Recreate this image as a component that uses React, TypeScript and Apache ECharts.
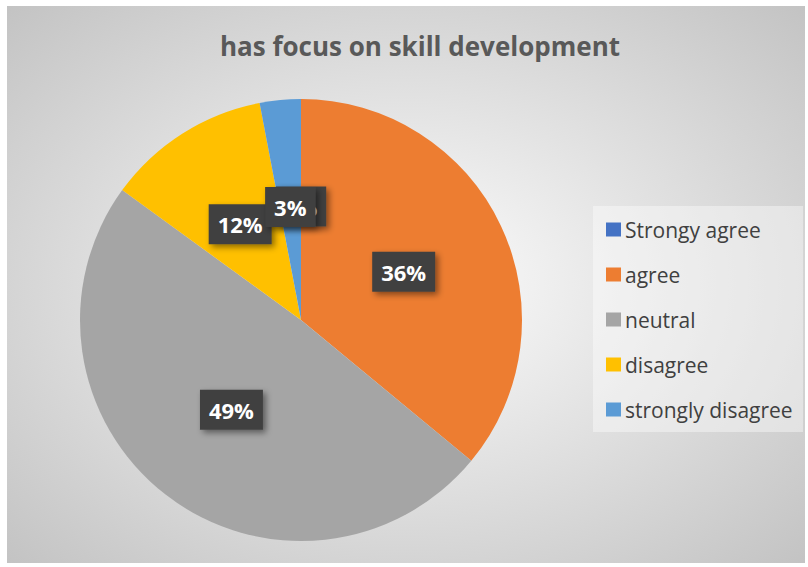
import React, { useEffect, useRef } from "react";
import * as echarts from "echarts";

const categories = ["Strongy agree", "agree", "neutral", "disagree", "strongly disagree"];
const values = [0, 36, 49, 12, 3];
const colors = ["#4472C4", "#ED7D31", "#A5A5A5", "#FFC000", "#5B9BD5"];
const titleText = "has focus on skill development";

export default function App() {
  const ref = useRef<HTMLDivElement>(null);
  useEffect(() => {
    if (!ref.current) return;
    const chart = echarts.init(ref.current, undefined, { renderer: "svg" });
    const font = "'Open Sans', 'Noto Sans', sans-serif";
    chart.setOption({
      animation: false,
      backgroundColor: {
        type: "radial",
        x: 0.5,
        y: 0.5,
        r: 0.72,
        colorStops: [
          { offset: 0, color: "#fdfdfd" },
          { offset: 1, color: "#c2c2c2" },
        ],
      },
      title: {
        text: titleText,
        left: 408,
        top: 22,
        textAlign: "center",
        textStyle: { fontFamily: font, fontSize: 26, fontWeight: "bold", color: "#595959" },
      },
      graphic: [
        {
          type: "rect",
          shape: { x: 586, y: 200, width: 210, height: 226 },
          style: { fill: "rgba(255,255,255,0.4)" },
          z: -1,
        },
      ],
      legend: {
        orient: "vertical",
        left: 586,
        top: 200,
        padding: [13, 4, 13, 13],
        itemWidth: 15,
        itemHeight: 14,
        itemGap: 24,
        icon: "rect",
        data: categories,
        textStyle: { fontFamily: font, fontSize: 21, color: "#404040", lineHeight: 20, padding: [0, 0, 0, -1] },
      },
      series: [
        {
          type: "pie",
          center: [294, 314],
          radius: 221,
          startAngle: 90,
          clockwise: true,
          percentPrecision: 0,
          avoidLabelOverlap: false,
          labelLayout: { hideOverlap: false },
          data: categories.map((name, i) => ({
            name,
            value: values[i],
            itemStyle: { color: colors[i] },
          })),
          label: {
            show: true,
            position: "inside",
            formatter: "{d}%",
            fontFamily: font,
            fontSize: 22,
            fontWeight: "bold",
            color: "#ffffff",
            backgroundColor: "#404040",
            padding: [10, 9, 8, 9],
            shadowColor: "rgba(0,0,0,0.45)",
            shadowBlur: 6,
            shadowOffsetX: 3,
            shadowOffsetY: 3,
          },
          labelLine: { show: false },
          emphasis: { disabled: true },
        },
      ],
    });
    return () => chart.dispose();
  }, []);
  return (
    <div
      ref={ref}
      style={{ position: "absolute", left: 7, top: 6, width: 798, height: 557 }}
    />
  );
}
